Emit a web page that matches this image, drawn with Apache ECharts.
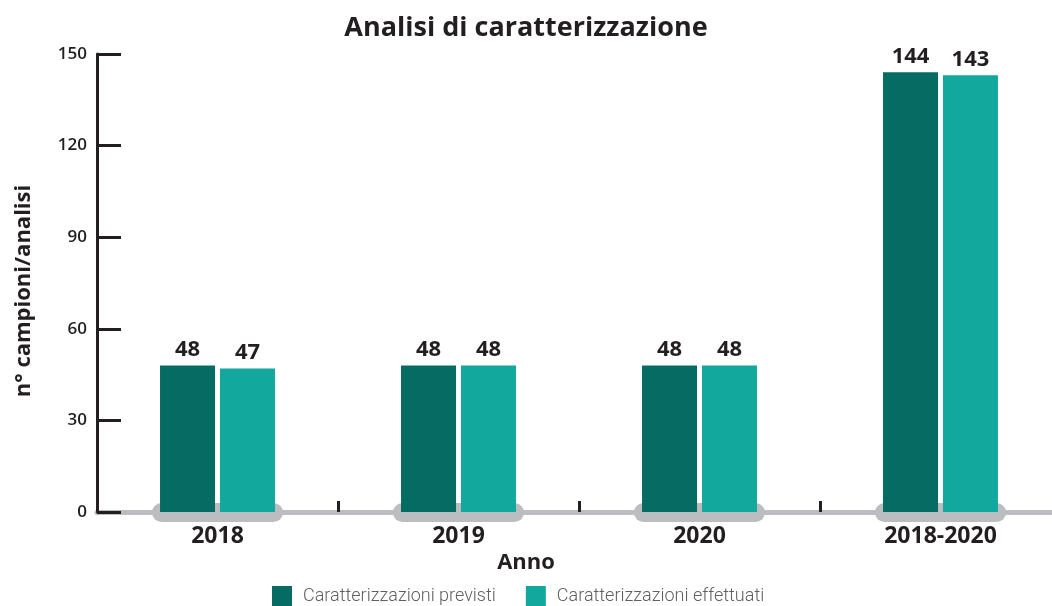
<!DOCTYPE html>
<html>
<head>
<meta charset="utf-8">
<script src="https://cdn.jsdelivr.net/npm/echarts@6/dist/echarts.min.js"></script>
<style>
  html, body { margin: 0; padding: 0; background: #ffffff; overflow: hidden; width: 1052px; height: 606px; }
  /* the category band runs a few pixels past the visible right edge */
  #chart { width: 1061px; height: 606px; }
</style>
</head>
<body>
<div id="chart"></div>
<script>
// Chart data
const categories = ['2018', '2019', '2020', '2018-2020'];
const previsti = [48, 48, 48, 144];
const effettuati = [47, 48, 48, 143];
const yTicks = [0, 30, 60, 90, 120, 150];

const FONT = '"Open Sans", sans-serif';
const INK = '#231f20';
const GREY = '#bcbdc0';
const DARK = '#066b63';
const LIGHT = '#12a89d';
const MID_X = 526; // horizontal centre of the visible page

const chart = echarts.init(document.getElementById('chart'));

chart.setOption({
  animation: false,
  backgroundColor: '#ffffff',
  graphic: [
    {
      type: 'text',
      x: MID_X, y: 28,
      style: {
        text: 'Analisi di caratterizzazione',
        font: '700 27px "Open Sans", sans-serif',
        fill: INK, align: 'center', verticalAlign: 'middle'
      }
    },
    {
      type: 'text',
      x: MID_X, y: 563,
      style: {
        text: 'Anno',
        font: '700 22px "Open Sans", sans-serif',
        fill: INK, align: 'center', verticalAlign: 'middle'
      }
    }
  ],
  legend: {
    data: ['Caratterizzazioni previsti', 'Caratterizzazioni effettuati'],
    left: 267,
    top: 581,
    itemWidth: 20,
    itemHeight: 20,
    itemGap: 30,
    icon: 'rect',
    textStyle: { fontFamily: 'Roboto, sans-serif', fontWeight: 300, fontSize: 18, color: '#5f6062', padding: [0, 0, 0, 6] }
  },
  grid: { left: 97, right: 0, top: 54, bottom: 94 },
  xAxis: {
    type: 'category',
    data: categories,
    axisLine: { show: true, lineStyle: { color: GREY, width: 5 } },
    axisTick: { show: true, inside: true, length: 11, lineStyle: { color: INK, width: 3 } },
    axisLabel: { fontFamily: FONT, fontWeight: 700, fontSize: 23, color: INK, margin: 13 },
    splitLine: { show: false }
  },
  yAxis: {
    type: 'value',
    min: yTicks[0],
    max: yTicks[yTicks.length - 1],
    interval: yTicks[1] - yTicks[0],
    z: 3,
    name: 'n° campioni/analisi',
    nameLocation: 'middle',
    nameRotate: 90,
    nameGap: 62,
    nameTextStyle: { fontFamily: FONT, fontWeight: 700, fontSize: 22, color: INK, padding: [0, 16, 0, 0] },
    axisLine: { show: true, lineStyle: { color: INK, width: 3 } },
    axisTick: { show: true, inside: true, length: 24, lineStyle: { color: INK, width: 3 } },
    axisLabel: { fontFamily: FONT, fontWeight: 600, fontSize: 17, color: INK, margin: 10 },
    splitLine: { show: false }
  },
  series: [
    {
      // rounded grey base under each category group
      type: 'custom',
      name: 'base',
      z: 1,
      silent: true,
      data: categories.map((c, i) => [i, 0]),
      renderItem: function (params, api) {
        const p = api.coord([api.value(0), 0]);
        const w = 131, h = 19;
        return {
          type: 'rect',
          shape: { x: p[0] - w / 2, y: p[1] - h / 2 + 0.5, width: w, height: h, r: h / 2 },
          style: { fill: GREY }
        };
      }
    },
    {
      name: 'Caratterizzazioni previsti',
      type: 'bar',
      z: 2,
      data: previsti,
      barWidth: 55,
      barGap: '9%',
      itemStyle: { color: DARK },
      label: {
        show: true, position: 'top', distance: 5,
        fontFamily: FONT, fontWeight: 700, fontSize: 22, color: INK
      }
    },
    {
      name: 'Caratterizzazioni effettuati',
      type: 'bar',
      z: 2,
      data: effettuati,
      barWidth: 55,
      itemStyle: { color: LIGHT },
      label: {
        show: true, position: 'top', distance: 5,
        fontFamily: FONT, fontWeight: 700, fontSize: 22, color: INK
      }
    }
  ]
});
</script>
</body>
</html>
